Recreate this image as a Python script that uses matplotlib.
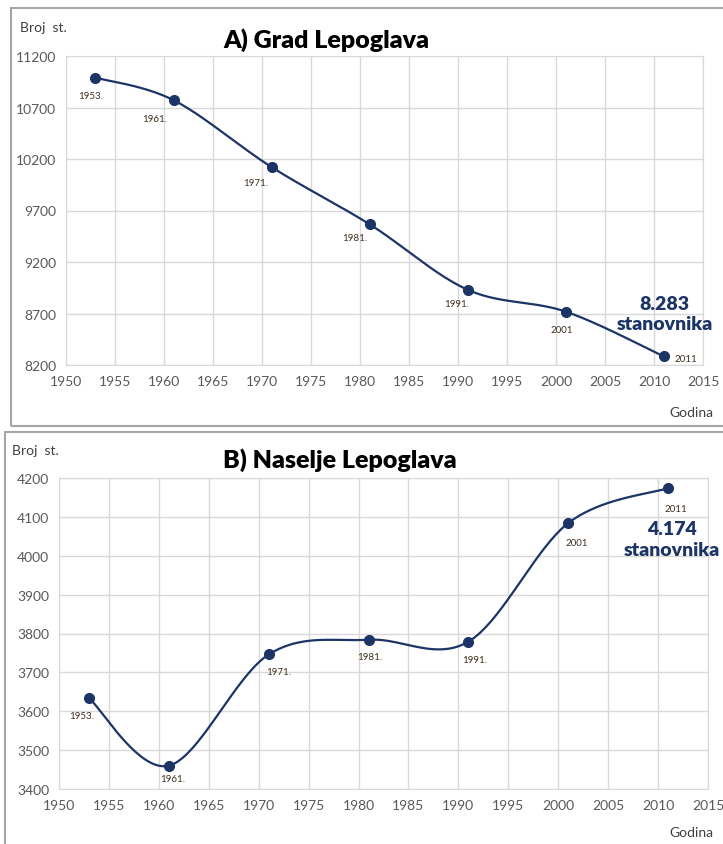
import numpy as np
import matplotlib.pyplot as plt
from matplotlib.patches import Rectangle

plt.rcParams['font.family'] = ['Lato', 'DejaVu Sans']

years = [1953, 1961, 1971, 1981, 1991, 2001, 2011]
grad = [10990, 10770, 10120, 9565, 8930, 8718, 8283]
naselje = [3634, 3460, 3746, 3784, 3779, 4084, 4174]
labels_a = ['1953.', '1961.', '1971.', '1981.', '1991.', '2001', '2011']
labels_b = ['1953.', '1961.', '1971.', '1981.', '1991.', '2001', '2011']
xticks = list(range(1950, 2020, 5))
yticks_a = [8200, 8700, 9200, 9700, 10200, 10700, 11200]
yticks_b = [3400, 3500, 3600, 3700, 3800, 3900, 4000, 4100, 4200]

navy = '#1C3466'
grid_c = '#D9D9D9'
tick_c = '#595959'


def smooth(x, y, n=40):
    # excel-like smoothed line: cubic bezier with catmull-rom control points
    x = np.asarray(x, float)
    y = np.asarray(y, float)
    px = np.concatenate([[x[0]], x, [x[-1]]])
    py = np.concatenate([[y[0]], y, [y[-1]]])
    xs, ys = [], []
    t = np.linspace(0, 1, n)
    for i in range(1, len(px) - 2):
        p0 = np.array([px[i], py[i]])
        p3 = np.array([px[i + 1], py[i + 1]])
        c1 = p0 + (p3 - np.array([px[i - 1], py[i - 1]])) / 6
        c2 = p3 - (np.array([px[i + 2], py[i + 2]]) - p0) / 6
        b = ((1 - t) ** 3)[:, None] * p0 + (3 * (1 - t) ** 2 * t)[:, None] * c1 \
            + (3 * (1 - t) * t ** 2)[:, None] * c2 + (t ** 3)[:, None] * p3
        xs.append(b[:, 0])
        ys.append(b[:, 1])
    return np.concatenate(xs), np.concatenate(ys)


fig = plt.figure(figsize=(7.23, 8.45), dpi=100)

# chart frames
fig.patches.append(Rectangle((11 / 723, 1 - 427 / 845), 1.0, 418 / 845, transform=fig.transFigure,
                             fill=False, edgecolor='#A6A6A6', lw=1.5))
fig.patches.append(Rectangle((5 / 723, -0.01), 1.0, 1 - 433 / 845 + 0.01, transform=fig.transFigure,
                             fill=False, edgecolor='#A6A6A6', lw=1.5))

ax1 = fig.add_axes([66 / 723, 1 - 366 / 845, 637 / 723, 309 / 845])
ax2 = fig.add_axes([59 / 723, 1 - 790 / 845, 649 / 723, 311 / 845])

offs_a = [(-5, 18), (-19, 18), (-16, 15), (-15, 13), (-11, 14), (-4, 18), (22, 2)]
offs_b = [(-7, 17), (4, 13), (10, 17), (1, 17), (6, 18), (9, 19), (8, 20)]

for ax, vals, labs, offs, yt in [(ax1, grad, labels_a, offs_a, yticks_a),
                                  (ax2, naselje, labels_b, offs_b, yticks_b)]:
    sx, sy = smooth(years, vals)
    ax.plot(sx, sy, color=navy, lw=1.6, zorder=3)
    ax.plot(years, vals, 'o', color=navy, ms=7, zorder=4)
    for x, y, lab, (dx, dy) in zip(years, vals, labs, offs):
        ax.annotate(lab, (x, y), xytext=(dx, -dy), textcoords='offset pixels',
                    ha='center', va='center', fontsize=7, color='#403020')
    ax.set_xlim(1950, 2015)
    ax.set_ylim(yt[0], yt[-1])
    ax.set_xticks(xticks)
    ax.set_yticks(yt)
    ax.grid(True, color=grid_c, lw=1)
    ax.set_axisbelow(True)
    for s in ax.spines.values():
        s.set_color(grid_c)
    ax.tick_params(length=0, labelsize=10, labelcolor=tick_c, pad=7)

ax1.annotate('8.283\nstanovnika', (years[-1], grad[-1]), xytext=(1, 43), textcoords='offset pixels',
             ha='center', va='center', fontsize=14, fontweight='heavy', color=navy, linespacing=1.25)
ax2.annotate('4.174\nstanovnika', (years[-1], naselje[-1]), xytext=(4, -51), textcoords='offset pixels',
             ha='center', va='center', fontsize=14, fontweight='heavy', color=navy, linespacing=1.25)

fig.text(326 / 723, 1 - 40 / 845, 'A) Grad Lepoglava', ha='center', va='center',
         fontsize=18, fontweight='heavy', color='black')
fig.text(340 / 723, 1 - 460 / 845, 'B) Naselje Lepoglava', ha='center', va='center',
         fontsize=18, fontweight='heavy', color='black')
fig.text(20 / 723, 1 - 28 / 845, 'Broj  st.', ha='left', va='center', fontsize=10, color='#404040')
fig.text(12 / 723, 1 - 451 / 845, 'Broj  st.', ha='left', va='center', fontsize=10, color='#404040')
fig.text(713 / 723, 1 - 413 / 845, 'Godina', ha='right', va='center', fontsize=10, color='#404040')
fig.text(713 / 723, 1 - 833 / 845, 'Godina', ha='right', va='center', fontsize=10, color='#404040')

fig.savefig('out.png', dpi=100)
